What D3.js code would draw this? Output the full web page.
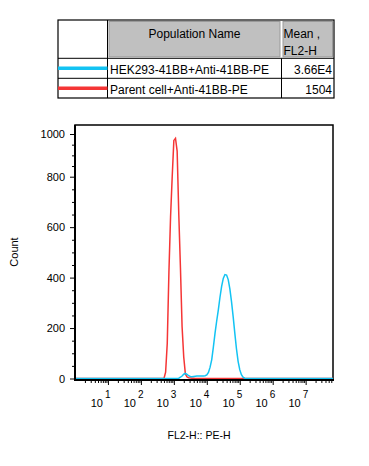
<!DOCTYPE html>
<html>
<head>
<meta charset="utf-8">
<script src="https://cdn.jsdelivr.net/npm/d3@7"></script>
<style>
  html, body { margin: 0; padding: 0; background: #fff; }
  svg { display: block; font-family: "Liberation Sans", Arial, sans-serif; }
</style>
</head>
<body>
<svg id="chart" width="369" height="466"></svg>
<script>
// ---------- data ----------
const populations = ["HEK293-41BB+Anti-41BB-PE", "Parent cell+Anti-41BB-PE"];
const means = ["3.66E4", "1504"];
const seriesColors = ["#12c3f3", "#f53535"];
const tableHeader = ["Population Name", "Mean ,", "FL2-H"];

// histogram counts, bins of 0.05 log10 decades
const blueStartLog = 3.10;
const blueCounts = [0, 1, 5, 10, 17, 20, 16, 11, 8, 7, 8, 9, 10, 10, 10, 10, 10, 11, 14, 24,
  45, 75, 125, 180, 228, 272, 322, 365, 397, 412, 410, 392, 355, 305, 245, 180, 118, 68, 35, 15, 5, 1, 0];
const redStartLog = 2.65;
const redCounts = [0, 0, 25, 140, 420, 640, 800, 970, 980, 920, 650, 440, 205, 85, 18, 6, 3, 2, 1, 1, 0];
const binStep = 0.05;

const yTicks = [0, 200, 400, 600, 800, 1000];
const xDecades = [1, 2, 3, 4, 5, 6, 7];
const xTitle = "FL2-H:: PE-H";
const yTitle = "Count";

// ---------- layout ----------
const svg = d3.select("#chart");
const L = 75, R = 333, T = 125, B = 380;
const x = d3.scaleLog().domain([1, Math.pow(10, 7.83)]).range([L, R]);
const y = d3.scaleLinear().domain([0, 800, 1000]).range([378.5, 176.7, 134]);

// ---------- table ----------
const tb = svg.append("g");
const tL = 58, tR = 334, tT = 20, tB = 98, c1 = 107.5, c2 = 281.5, r1 = 58.3, r2 = 78.3;
tb.append("rect").attr("x", tL).attr("y", tT).attr("width", tR - tL).attr("height", tB - tT)
  .attr("fill", "#fff").attr("stroke", "#000").attr("stroke-width", 1.2);
tb.append("rect").attr("x", c1 + 1.5).attr("y", tT + 1.5).attr("width", c2 - c1 - 3).attr("height", r1 - tT - 3)
  .attr("fill", "#c0c0c0").attr("stroke", "#9a9a9a").attr("stroke-width", 1);
tb.append("rect").attr("x", c2 + 1.5).attr("y", tT + 1.5).attr("width", tR - c2 - 3).attr("height", r1 - tT - 3)
  .attr("fill", "#c0c0c0").attr("stroke", "#9a9a9a").attr("stroke-width", 1);
tb.append("line").attr("x1", c1).attr("x2", c1).attr("y1", tT).attr("y2", tB).attr("stroke", "#000");
tb.append("line").attr("x1", c2).attr("x2", c2).attr("y1", r1).attr("y2", tB).attr("stroke", "#000");
tb.append("line").attr("x1", tL).attr("x2", tR).attr("y1", r1).attr("y2", r1).attr("stroke", "#000");
tb.append("line").attr("x1", tL).attr("x2", tR).attr("y1", r2).attr("y2", r2).attr("stroke", "#000");

tb.append("text").attr("x", (c1 + c2) / 2).attr("y", 37.5).attr("text-anchor", "middle")
  .attr("font-size", 12).text(tableHeader[0]);
tb.append("text").attr("x", c2 + 2).attr("y", 37.5).attr("font-size", 12).text(tableHeader[1]);
tb.append("text").attr("x", c2 + 2).attr("y", 54.5).attr("font-size", 12).text(tableHeader[2]);

const rowsY = [r1, r2];
populations.forEach((p, i) => {
  const top = rowsY[i];
  tb.append("line").attr("x1", tL).attr("x2", c1).attr("y1", top + 10).attr("y2", top + 10)
    .attr("stroke", seriesColors[i]).attr("stroke-width", 3.5);
  tb.append("text").attr("x", c1 + 2.5).attr("y", top + 15.5).attr("font-size", 12).text(p);
  tb.append("text").attr("x", tR - 2).attr("y", top + 15.5).attr("font-size", 12)
    .attr("text-anchor", "end").text(means[i]);
});

// ---------- plot ----------
const g = svg.append("g");
g.append("rect").attr("x", L).attr("y", T).attr("width", R - L).attr("height", B - T)
  .attr("fill", "none").attr("stroke", "#000").attr("stroke-width", 1.5);

function toSeries(start, counts) {
  const pts = [{ log: 0, c: 0 }];
  counts.forEach((c, i) => pts.push({ log: start + i * binStep, c }));
  pts.push({ log: 7.83, c: 0 });
  return pts;
}
const line = d3.line().x(d => x(Math.pow(10, d.log))).y(d => y(d.c));
g.append("path").datum(toSeries(redStartLog, redCounts)).attr("d", line)
  .attr("fill", "none").attr("stroke", seriesColors[1]).attr("stroke-width", 1.5);
g.append("path").datum(toSeries(blueStartLog, blueCounts)).attr("d", line)
  .attr("fill", "none").attr("stroke", seriesColors[0]).attr("stroke-width", 1.5);

// y axis
const yAxis = g.append("g").attr("transform", `translate(${L},0)`)
  .call(d3.axisLeft(y).tickValues(yTicks).tickSize(5).tickPadding(5).tickSizeOuter(0).tickFormat(d3.format("d")));
yAxis.select(".domain").remove();
yAxis.selectAll("text").attr("font-size", 11).attr("font-family", "Liberation Sans, Arial, sans-serif").attr("fill", "#000");
const yMinor = d3.range(50, 1000, 50).filter(v => v % 200 !== 0);
g.append("g").attr("transform", `translate(${L},0)`)
  .call(d3.axisLeft(y).tickValues(yMinor).tickSize(3).tickFormat(""))
  .select(".domain").remove();

// x axis
const xMinor = [];
for (let d = 0; d <= 7; d++) for (let m = 2; m <= 9; m++) { const v = m * Math.pow(10, d); if (v < x.domain()[1]) xMinor.push(v); }
g.append("g").attr("transform", `translate(0,${B})`)
  .call(d3.axisBottom(x).tickValues(xMinor).tickSize(3).tickFormat(""))
  .select(".domain").remove();
const xMaj = g.append("g").attr("transform", `translate(0,${B})`)
  .call(d3.axisBottom(x).tickValues(xDecades.map(d => Math.pow(10, d))).tickSize(5).tickFormat(""));
xMaj.select(".domain").remove();
xMaj.selectAll(".tick").each(function (v) {
  const tk = d3.select(this);
  tk.append("text").attr("fill", "#000").attr("text-anchor", "end")
    .attr("x", -5.5).attr("y", 27.3).attr("font-size", 11)
    .attr("font-family", "Liberation Sans, Arial, sans-serif").text("10");
  tk.append("text").attr("fill", "#000").attr("text-anchor", "start")
    .attr("x", -3.5).attr("y", 17.5).attr("font-size", 10)
    .attr("font-family", "Liberation Sans, Arial, sans-serif").text(String(Math.round(Math.log10(v))));
});

// axis lines
g.append("line").attr("x1", L).attr("x2", L).attr("y1", T).attr("y2", B + 1).attr("stroke", "#000").attr("stroke-width", 2);
g.append("line").attr("x1", L - 1).attr("x2", R + 1).attr("y1", B).attr("y2", B).attr("stroke", "#000").attr("stroke-width", 2);

// titles
svg.append("text").attr("x", 199).attr("y", 439).attr("text-anchor", "middle").attr("font-size", 10.5).text(xTitle);
svg.append("text").attr("transform", "translate(18,252) rotate(-90)").attr("text-anchor", "middle")
  .attr("font-size", 11).text(yTitle);
</script>
</body>
</html>
